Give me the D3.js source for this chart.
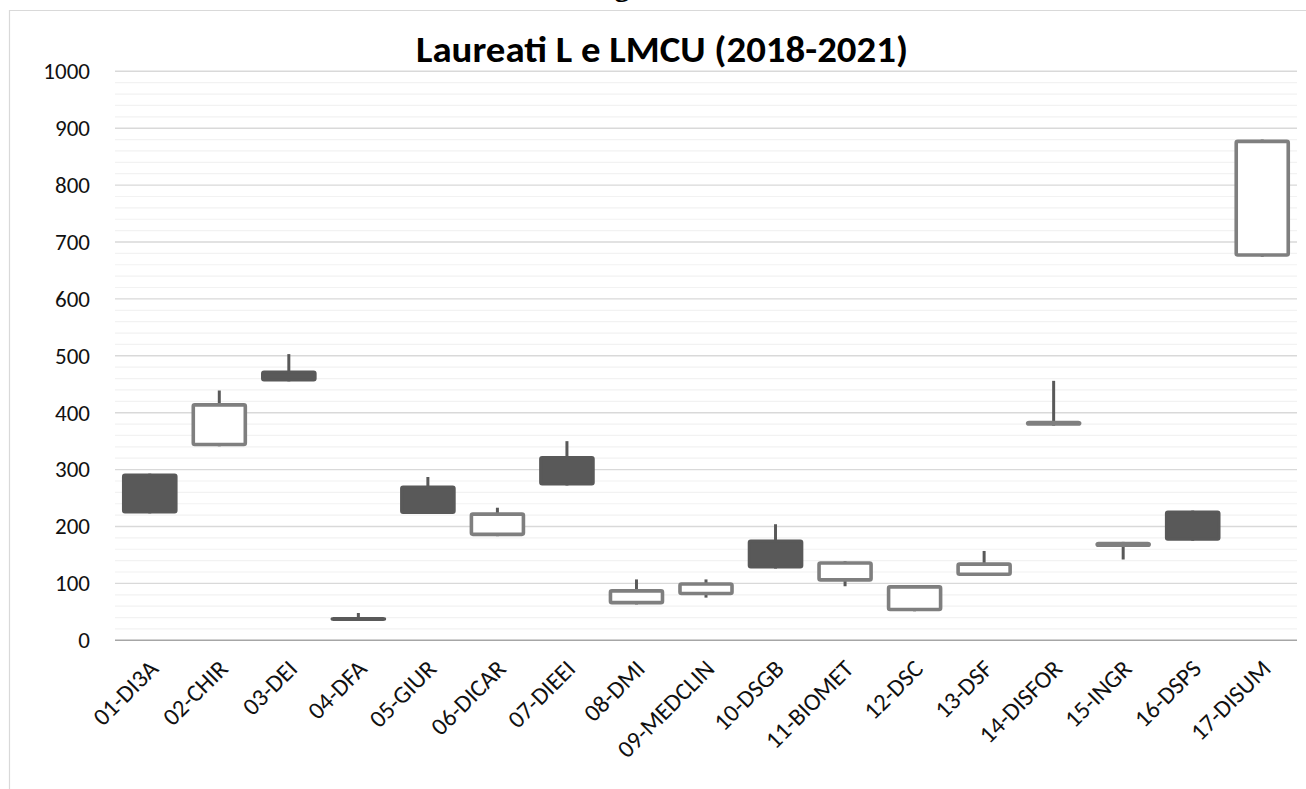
<!DOCTYPE html>
<html>
<head>
<meta charset="utf-8">
<script src="https://cdn.jsdelivr.net/npm/d3@7"></script>
<style>
  html, body { margin: 0; padding: 0; background: #fff; }
  svg { display: block; }
  text { font-family: Calibri, Carlito, Lato, "Open Sans", sans-serif; }
</style>
</head>
<body>
<svg id="chart" width="1306" height="789"></svg>
<script>
// data (open / high / low / close)
const categories = ["01-DI3A", "02-CHIR", "03-DEI", "04-DFA", "05-GIUR", "06-DICAR", "07-DIEEI",
  "08-DMI", "09-MEDCLIN", "10-DSGB", "11-BIOMET", "12-DSC", "13-DSF", "14-DISFOR",
  "15-INGR", "16-DSPS", "17-DISUM"];
const openVals  = [293, 341, 474, 41, 272, 183, 324, 63, 79, 177, 103, 51, 113, 377, 164, 228, 674];
const highVals  = [293, 439, 503, 48, 287, 233, 350, 107, 107, 204, 139, 97, 157, 456, 173, 228, 880];
const lowVals   = [223, 341, 455, 34, 222, 183, 272, 63, 75, 126, 95, 51, 113, 377, 142, 175, 674];
const closeVals = [223, 417, 455, 34, 222, 225, 272, 90, 102, 126, 139, 97, 137, 386, 173, 175, 880];
const yTicks = [0, 100, 200, 300, 400, 500, 600, 700, 800, 900, 1000];

const title = "Laureati L e LMCU (2018-2021)";

const rows = categories.map((c, i) => ({
  cat: c, open: openVals[i], high: highVals[i], low: lowVals[i], close: closeVals[i]
}));

const svg = d3.select("#chart");
const plotLeft = 115, plotRight = 1297, plotTop = 71.3, plotBottom = 640.3;

const x = d3.scaleBand().domain(categories).range([plotLeft, plotRight])
  .paddingInner(0.2).paddingOuter(0.1);
const y = d3.scaleLinear().domain([0, 1000]).range([plotBottom, plotTop]);

// chart area border (only top/left visible in the crop)
svg.append("line").attr("x1", 9).attr("x2", 1306).attr("y1", 10.5).attr("y2", 10.5)
  .attr("stroke", "#d9d9d9").attr("stroke-width", 1.2);
svg.append("line").attr("x1", 9.5).attr("x2", 9.5).attr("y1", 10).attr("y2", 789)
  .attr("stroke", "#d9d9d9").attr("stroke-width", 1.2);

// cut-off heading from the page above
svg.append("text").attr("x", 622).attr("y", -4).attr("text-anchor", "middle")
  .style("font-family", "'Liberation Serif', 'DejaVu Serif', serif")
  .style("font-weight", "bold").style("font-size", "30px").text("g");

// title
svg.append("text")
  .attr("x", 662).attr("y", 62)
  .attr("text-anchor", "middle")
  .attr("textLength", 492).attr("lengthAdjust", "spacingAndGlyphs")
  .style("font-weight", "bold").style("font-size", "37px").attr("fill", "#000")
  .text(title);

// minor gridlines every 20
svg.append("g")
  .selectAll("line")
  .data(y.ticks(50).filter(v => v % 100 !== 0))
  .join("line")
  .attr("x1", plotLeft).attr("x2", plotRight)
  .attr("y1", d => y(d)).attr("y2", d => y(d))
  .attr("stroke", "#f2f2f2").attr("stroke-width", 1.2);

// major gridlines
svg.append("g")
  .selectAll("line")
  .data(yTicks.filter(v => v > 0))
  .join("line")
  .attr("x1", plotLeft).attr("x2", plotRight)
  .attr("y1", d => y(d)).attr("y2", d => y(d))
  .attr("stroke", "#d9d9d9").attr("stroke-width", 1.4);

// y axis labels
const yAxis = svg.append("g")
  .attr("transform", `translate(${plotLeft},0)`)
  .call(d3.axisLeft(y).tickValues(yTicks).tickFormat(d3.format("d")).tickSize(0).tickPadding(25));
yAxis.select(".domain").remove();
yAxis.selectAll("text")
  .style("font-size", "23px").attr("fill", "#111");

// category axis
svg.append("line").attr("x1", plotLeft).attr("x2", plotRight)
  .attr("y1", y(0)).attr("y2", y(0))
  .attr("stroke", "#a6a6a6").attr("stroke-width", 1.6);

const xAxis = svg.append("g")
  .attr("transform", `translate(0,${plotBottom})`)
  .call(d3.axisBottom(x).tickSize(0).tickFormat(d => d));
xAxis.select(".domain").remove();
xAxis.selectAll("text")
  .attr("text-anchor", "end")
  .attr("dy", null)
  .attr("y", null)
  .attr("transform", "translate(10,30) rotate(-45)")
  .style("font-size", "24.5px").attr("fill", "#111");

// candles
const candles = svg.append("g");

candles.selectAll("line.wick")
  .data(rows)
  .join("line")
  .attr("class", "wick")
  .attr("x1", d => x(d.cat) + x.bandwidth() / 2)
  .attr("x2", d => x(d.cat) + x.bandwidth() / 2)
  .attr("y1", d => y(d.high))
  .attr("y2", d => y(d.low))
  .attr("stroke", "#595959").attr("stroke-width", 3);

const sw = d => d.close < d.open ? 3 : 3.6;
candles.selectAll("rect.body")
  .data(rows)
  .join("rect")
  .attr("class", "body")
  .attr("x", d => x(d.cat) + sw(d) / 2)
  .attr("width", d => x.bandwidth() - sw(d))
  .attr("y", d => y(Math.max(d.open, d.close)) + sw(d) / 2)
  .attr("height", d => Math.max(0.5, Math.abs(y(d.open) - y(d.close)) - sw(d)))
  .attr("rx", 1.5)
  .attr("fill", d => d.close < d.open ? "#595959" : "#ffffff")
  .attr("stroke", d => d.close < d.open ? "#595959" : "#7f7f7f")
  .attr("stroke-width", sw)
  .attr("stroke-linejoin", "round");
</script>
</body>
</html>
